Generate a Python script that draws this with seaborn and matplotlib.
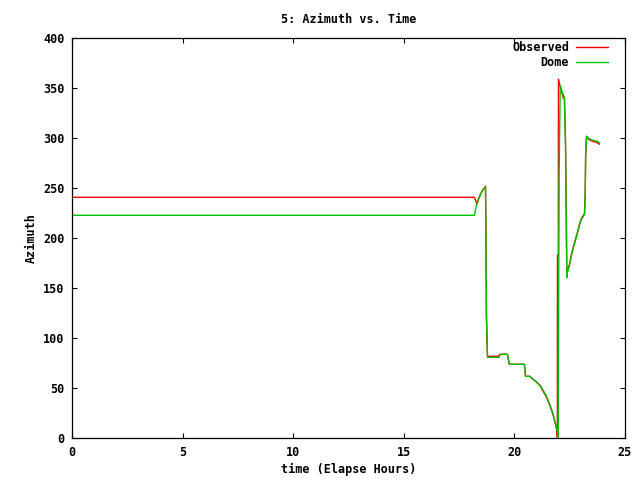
import pandas as pd
import matplotlib
matplotlib.use('Agg')
import matplotlib.pyplot as plt
import seaborn as sns

# data (hours, azimuth degrees)
obs_t = [0.0, 18.19, 18.26, 18.30, 18.37, 18.42, 18.51, 18.60, 18.69, 18.71, 18.73, 18.78,
         19.25, 19.31, 19.35, 19.68, 19.77, 20.45, 20.50, 20.68, 20.90, 21.01, 21.20, 21.24,
         21.43, 21.58, 21.74, 21.84, 21.90, 21.94, 21.945, 21.985, 21.99, 22.03, 22.08, 22.13,
         22.21, 22.26, 22.31, 22.35, 22.37, 22.40, 22.49, 22.58, 22.67, 22.76, 22.85, 22.94,
         23.03, 23.12, 23.17, 23.20, 23.22, 23.26, 23.35, 23.53, 23.70, 23.85]
obs_az = [241, 241, 237, 234, 239, 242, 246, 249, 252, 208, 124, 82,
          82, 83, 84, 84, 74, 74, 62, 62, 58, 56, 52, 49,
          42, 34, 24, 15, 10, 1, 183, 183, 359, 355, 351, 347,
          340, 340, 295, 206, 161, 168, 174, 184, 192, 199, 206, 214,
          220, 223, 225, 244, 283, 302, 299, 297, 296, 294]

dome_t = [0.0, 18.19, 18.24, 18.28, 18.33, 18.37, 18.42, 18.46, 18.51, 18.55, 18.60, 18.64,
          18.69, 18.71, 18.73, 18.78, 19.31, 19.35, 19.68, 19.77, 20.45, 20.50, 20.68, 21.01,
          21.24, 21.43, 21.58, 21.74, 21.84, 21.92, 21.96, 21.98, 21.99, 22.02, 22.07, 22.11,
          22.16, 22.26, 22.31, 22.35, 22.37, 22.40, 22.49, 22.58, 22.67, 22.76, 22.85, 22.94,
          23.03, 23.12, 23.17, 23.20, 23.22, 23.26, 23.35, 23.53, 23.76, 23.85]
dome_az = [223, 223, 229, 233, 236, 239, 241, 244, 246, 248, 249, 250,
           251, 208, 124, 81, 81, 84, 84, 74, 74, 62, 62, 56,
           50, 43, 35, 25, 16, 10, 3, 0, 88, 264, 353, 350,
           346, 341, 295, 206, 161, 166, 173, 183, 191, 198, 205, 213,
           219, 222, 224, 244, 283, 302, 300, 298, 297, 295]

series_names = ['Observed', 'Dome']
colors = ['#ff0000', '#00c000']

df = pd.concat([
    pd.DataFrame({'t': obs_t, 'az': obs_az, 'series': 'Observed'}),
    pd.DataFrame({'t': dome_t, 'az': dome_az, 'series': 'Dome'}),
], ignore_index=True)

sns.set_style('ticks')
plt.rcParams['font.family'] = ['DejaVu Sans Mono']
plt.rcParams['font.weight'] = 'bold'
plt.rcParams['text.color'] = 'black'
plt.rcParams['axes.labelcolor'] = 'black'
fs = 8.5

fig = plt.figure(figsize=(6.4, 4.8), dpi=100)
ax = fig.add_axes([72.3 / 640, (480 - 438.3) / 480, 552.7 / 640, 400 / 480])

sns.lineplot(data=df, x='t', y='az', hue='series', hue_order=series_names,
             palette=colors, sort=False, estimator=None, linewidth=1, ax=ax)

ax.set_xlim(0, 25)
ax.set_ylim(0, 400)
ax.set_xticks(range(0, 26, 5))
ax.set_yticks(range(0, 401, 50))
ax.tick_params(direction='in', top=True, right=True, length=3.3, width=0.8,
               labelsize=fs, pad=5.5, colors='black')
for s in ax.spines.values():
    s.set_linewidth(0.9)
    s.set_color('black')

ax.set_title('5: Azimuth vs. Time', fontsize=fs, fontweight='bold', pad=11, color='black')
ax.set_xlabel('time (Elapse Hours)', fontsize=fs, fontweight='bold', labelpad=3)
ax.set_ylabel('Azimuth', fontsize=fs, fontweight='bold', labelpad=4)

ax.legend(loc='upper right', bbox_to_anchor=((608 - 72.3) / 552.7, (438.3 - 41) / 400),
          frameon=False, markerfirst=False, borderpad=0, borderaxespad=0,
          handlelength=2.7, handletextpad=0.6, labelspacing=0.2,
          prop={'size': fs, 'weight': 'bold'})

plt.savefig('out.png', dpi=100)
